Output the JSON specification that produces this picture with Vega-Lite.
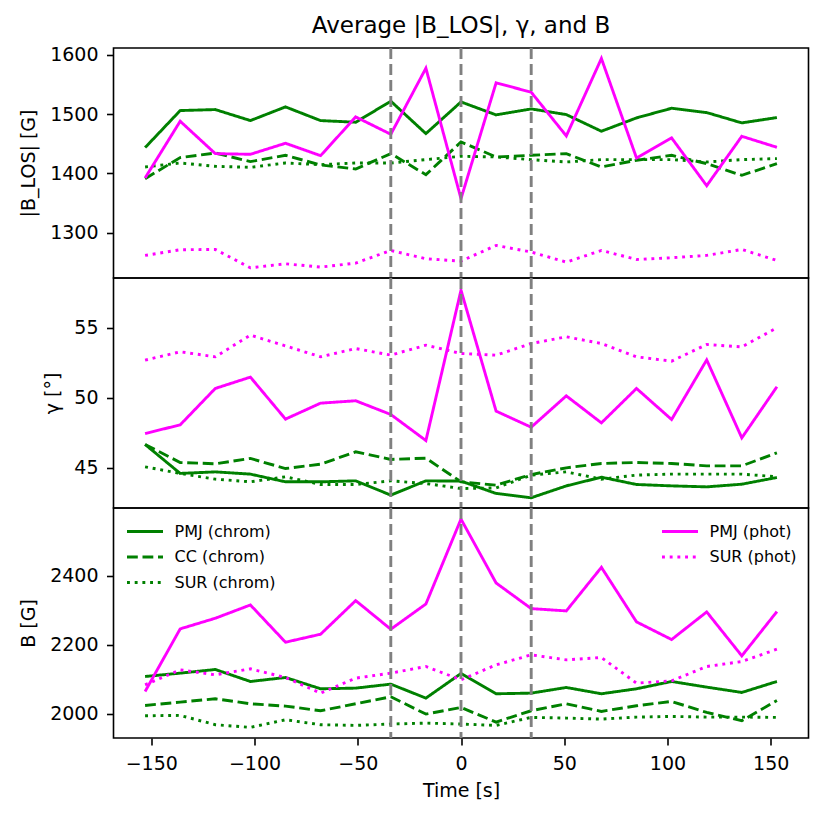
{
  "$schema": "https://vega.github.io/schema/vega-lite/v6.json",
  "padding": {"left": 18.5, "top": 14, "right": 5, "bottom": 5},
  "spacing": 0,
  "bounds": "flush",
  "config": {
    "font": "DejaVu Sans",
    "view": {"stroke": "black", "strokeWidth": 1.6},
    "axis": {
      "domain": false, "grid": false, "format": "d",
      "tickColor": "black", "tickSize": 7, "tickWidth": 1.6,
      "labelFontSize": 19, "labelColor": "black", "labelPadding": 8.5,
      "titleFontSize": 19, "titleFontWeight": "normal", "titleColor": "black", "titlePadding": 11
    },
    "legend": {
      "title": null, "labelFontSize": 16, "labelColor": "black",
      "symbolType": "M-1.0,0H2.6", "symbolSize": 400, "symbolStrokeWidth": 2.9,
      "labelOffset": 26, "offset": 12, "padding": 0, "rowPadding": 5.5
    }
  },
  "datasets": {
    "vlines": [{"t": -34}, {"t": 0}, {"t": 34}],
    "series": [
      {"t": -153, "series": "PMJ (chrom)", "blos": 1443.7, "gamma": 46.67, "b": 2108.2},
      {"t": -136, "series": "PMJ (chrom)", "blos": 1506.2, "gamma": 44.6, "b": 2117.9},
      {"t": -119, "series": "PMJ (chrom)", "blos": 1507.9, "gamma": 44.71, "b": 2128.5},
      {"t": -102, "series": "PMJ (chrom)", "blos": 1489.3, "gamma": 44.55, "b": 2093.7},
      {"t": -85, "series": "PMJ (chrom)", "blos": 1512.4, "gamma": 44.0, "b": 2105.3},
      {"t": -68, "series": "PMJ (chrom)", "blos": 1489.3, "gamma": 44.0, "b": 2072.5},
      {"t": -51, "series": "PMJ (chrom)", "blos": 1486.5, "gamma": 44.07, "b": 2074.4},
      {"t": -34, "series": "PMJ (chrom)", "blos": 1522.0, "gamma": 43.05, "b": 2086.0},
      {"t": -17, "series": "PMJ (chrom)", "blos": 1467.3, "gamma": 44.07, "b": 2045.4},
      {"t": 0, "series": "PMJ (chrom)", "blos": 1520.8, "gamma": 44.05, "b": 2116.9},
      {"t": 17, "series": "PMJ (chrom)", "blos": 1498.9, "gamma": 43.17, "b": 2058.0},
      {"t": 34, "series": "PMJ (chrom)", "blos": 1509.0, "gamma": 42.86, "b": 2059.9},
      {"t": 51, "series": "PMJ (chrom)", "blos": 1499.4, "gamma": 43.71, "b": 2076.3},
      {"t": 68, "series": "PMJ (chrom)", "blos": 1471.3, "gamma": 44.33, "b": 2058.0},
      {"t": 85, "series": "PMJ (chrom)", "blos": 1493.8, "gamma": 43.81, "b": 2072.5},
      {"t": 102, "series": "PMJ (chrom)", "blos": 1510.1, "gamma": 43.71, "b": 2093.7},
      {"t": 119, "series": "PMJ (chrom)", "blos": 1502.8, "gamma": 43.64, "b": 2077.3},
      {"t": 136, "series": "PMJ (chrom)", "blos": 1485.4, "gamma": 43.83, "b": 2061.8},
      {"t": 153, "series": "PMJ (chrom)", "blos": 1494.4, "gamma": 44.31, "b": 2093.7},

      {"t": -153, "series": "CC (chrom)", "blos": 1391.3, "gamma": 46.67, "b": 2024.1},
      {"t": -136, "series": "CC (chrom)", "blos": 1426.8, "gamma": 45.38, "b": 2033.8},
      {"t": -119, "series": "CC (chrom)", "blos": 1434.6, "gamma": 45.29, "b": 2043.5},
      {"t": -102, "series": "CC (chrom)", "blos": 1420.0, "gamma": 45.67, "b": 2029.0},
      {"t": -85, "series": "CC (chrom)", "blos": 1430.7, "gamma": 44.95, "b": 2022.2},
      {"t": -68, "series": "CC (chrom)", "blos": 1414.4, "gamma": 45.26, "b": 2008.7},
      {"t": -51, "series": "CC (chrom)", "blos": 1407.6, "gamma": 46.14, "b": 2029.0},
      {"t": -34, "series": "CC (chrom)", "blos": 1433.5, "gamma": 45.6, "b": 2049.3},
      {"t": -17, "series": "CC (chrom)", "blos": 1398.0, "gamma": 45.69, "b": 1999.0},
      {"t": 0, "series": "CC (chrom)", "blos": 1453.2, "gamma": 44.0, "b": 2018.4},
      {"t": 17, "series": "CC (chrom)", "blos": 1427.9, "gamma": 43.76, "b": 1975.8},
      {"t": 34, "series": "CC (chrom)", "blos": 1430.7, "gamma": 44.52, "b": 2008.7},
      {"t": 51, "series": "CC (chrom)", "blos": 1433.5, "gamma": 45.0, "b": 2029.0},
      {"t": 68, "series": "CC (chrom)", "blos": 1411.0, "gamma": 45.31, "b": 2006.8},
      {"t": 85, "series": "CC (chrom)", "blos": 1422.2, "gamma": 45.38, "b": 2023.2},
      {"t": 102, "series": "CC (chrom)", "blos": 1430.7, "gamma": 45.31, "b": 2035.7},
      {"t": 119, "series": "CC (chrom)", "blos": 1416.6, "gamma": 45.14, "b": 2003.9},
      {"t": 136, "series": "CC (chrom)", "blos": 1396.9, "gamma": 45.14, "b": 1979.7},
      {"t": 153, "series": "CC (chrom)", "blos": 1416.6, "gamma": 46.07, "b": 2038.6},

      {"t": -153, "series": "SUR (chrom)", "blos": 1411.0, "gamma": 45.07, "b": 1994.2},
      {"t": -136, "series": "SUR (chrom)", "blos": 1417.7, "gamma": 44.6, "b": 1995.2},
      {"t": -119, "series": "SUR (chrom)", "blos": 1412.1, "gamma": 44.19, "b": 1968.1},
      {"t": -102, "series": "SUR (chrom)", "blos": 1410.4, "gamma": 44.0, "b": 1960.4},
      {"t": -85, "series": "SUR (chrom)", "blos": 1417.7, "gamma": 44.36, "b": 1982.6},
      {"t": -68, "series": "SUR (chrom)", "blos": 1414.9, "gamma": 43.81, "b": 1968.1},
      {"t": -51, "series": "SUR (chrom)", "blos": 1417.7, "gamma": 43.81, "b": 1966.2},
      {"t": -34, "series": "SUR (chrom)", "blos": 1417.7, "gamma": 44.07, "b": 1970.1},
      {"t": -17, "series": "SUR (chrom)", "blos": 1423.4, "gamma": 43.88, "b": 1972.9},
      {"t": 0, "series": "SUR (chrom)", "blos": 1429.0, "gamma": 43.52, "b": 1970.1},
      {"t": 17, "series": "SUR (chrom)", "blos": 1427.9, "gamma": 43.57, "b": 1966.2},
      {"t": 34, "series": "SUR (chrom)", "blos": 1423.4, "gamma": 44.48, "b": 1989.4},
      {"t": 51, "series": "SUR (chrom)", "blos": 1419.4, "gamma": 44.71, "b": 1987.4},
      {"t": 68, "series": "SUR (chrom)", "blos": 1423.4, "gamma": 44.19, "b": 1984.5},
      {"t": 85, "series": "SUR (chrom)", "blos": 1423.4, "gamma": 44.48, "b": 1990.3},
      {"t": 102, "series": "SUR (chrom)", "blos": 1423.4, "gamma": 44.55, "b": 1992.3},
      {"t": 119, "series": "SUR (chrom)", "blos": 1419.4, "gamma": 44.55, "b": 1990.3},
      {"t": 136, "series": "SUR (chrom)", "blos": 1423.4, "gamma": 44.55, "b": 1990.3},
      {"t": 153, "series": "SUR (chrom)", "blos": 1425.1, "gamma": 44.36, "b": 1989.4},

      {"t": -153, "series": "PMJ (phot)", "blos": 1392.4, "gamma": 47.45, "b": 2064.7},
      {"t": -136, "series": "PMJ (phot)", "blos": 1488.2, "gamma": 48.07, "b": 2246.4},
      {"t": -119, "series": "PMJ (phot)", "blos": 1433.5, "gamma": 50.67, "b": 2277.3},
      {"t": -102, "series": "PMJ (phot)", "blos": 1432.4, "gamma": 51.48, "b": 2315.9},
      {"t": -85, "series": "PMJ (phot)", "blos": 1451.0, "gamma": 48.48, "b": 2207.7},
      {"t": -68, "series": "PMJ (phot)", "blos": 1430.1, "gamma": 49.62, "b": 2230.9},
      {"t": -51, "series": "PMJ (phot)", "blos": 1495.5, "gamma": 49.79, "b": 2328.5},
      {"t": -34, "series": "PMJ (phot)", "blos": 1466.2, "gamma": 48.81, "b": 2245.4},
      {"t": -17, "series": "PMJ (phot)", "blos": 1577.7, "gamma": 46.95, "b": 2318.8},
      {"t": 0, "series": "PMJ (phot)", "blos": 1357.5, "gamma": 57.69, "b": 2565.2},
      {"t": 17, "series": "PMJ (phot)", "blos": 1553.0, "gamma": 49.05, "b": 2379.7},
      {"t": 34, "series": "PMJ (phot)", "blos": 1537.2, "gamma": 47.9, "b": 2305.3},
      {"t": 51, "series": "PMJ (phot)", "blos": 1463.4, "gamma": 50.14, "b": 2298.6},
      {"t": 68, "series": "PMJ (phot)", "blos": 1594.1, "gamma": 48.21, "b": 2425.1},
      {"t": 85, "series": "PMJ (phot)", "blos": 1426.2, "gamma": 50.67, "b": 2266.7},
      {"t": 102, "series": "PMJ (phot)", "blos": 1460.0, "gamma": 48.45, "b": 2215.5},
      {"t": 119, "series": "PMJ (phot)", "blos": 1379.4, "gamma": 52.71, "b": 2295.7},
      {"t": 136, "series": "PMJ (phot)", "blos": 1462.8, "gamma": 47.14, "b": 2168.1},
      {"t": 153, "series": "PMJ (phot)", "blos": 1444.2, "gamma": 50.79, "b": 2296.6},

      {"t": -153, "series": "SUR (phot)", "blos": 1261.7, "gamma": 52.69, "b": 2084.0},
      {"t": -136, "series": "SUR (phot)", "blos": 1271.3, "gamma": 53.29, "b": 2127.5},
      {"t": -119, "series": "SUR (phot)", "blos": 1271.8, "gamma": 52.93, "b": 2113.0},
      {"t": -102, "series": "SUR (phot)", "blos": 1240.8, "gamma": 54.48, "b": 2130.4},
      {"t": -85, "series": "SUR (phot)", "blos": 1247.6, "gamma": 53.71, "b": 2105.3},
      {"t": -68, "series": "SUR (phot)", "blos": 1242.0, "gamma": 52.93, "b": 2059.9},
      {"t": -51, "series": "SUR (phot)", "blos": 1248.7, "gamma": 53.52, "b": 2103.4},
      {"t": -34, "series": "SUR (phot)", "blos": 1270.1, "gamma": 53.05, "b": 2117.9},
      {"t": -17, "series": "SUR (phot)", "blos": 1256.1, "gamma": 53.76, "b": 2137.2},
      {"t": 0, "series": "SUR (phot)", "blos": 1252.1, "gamma": 53.17, "b": 2098.6},
      {"t": 17, "series": "SUR (phot)", "blos": 1278.6, "gamma": 53.05, "b": 2142.0},
      {"t": 34, "series": "SUR (phot)", "blos": 1267.4, "gamma": 53.88, "b": 2171.0},
      {"t": 51, "series": "SUR (phot)", "blos": 1250.4, "gamma": 54.36, "b": 2156.5},
      {"t": 68, "series": "SUR (phot)", "blos": 1270.1, "gamma": 53.88, "b": 2163.3},
      {"t": 85, "series": "SUR (phot)", "blos": 1254.9, "gamma": 52.93, "b": 2088.9},
      {"t": 102, "series": "SUR (phot)", "blos": 1257.8, "gamma": 52.62, "b": 2095.6},
      {"t": 119, "series": "SUR (phot)", "blos": 1261.7, "gamma": 53.81, "b": 2137.2},
      {"t": 136, "series": "SUR (phot)", "blos": 1271.8, "gamma": 53.64, "b": 2151.7},
      {"t": 153, "series": "SUR (phot)", "blos": 1253.2, "gamma": 55.0, "b": 2187.4}
    ]
  },
  "vconcat": [
    {
      "width": 695,
      "height": 230,
      "title": {"text": "Average |B_LOS|, γ, and B", "frame": "group", "anchor": "middle", "fontSize": 23, "fontWeight": "normal", "color": "black", "offset": 8},
      "layer": [
        {
          "data": {"name": "series"},
          "mark": {"type": "line", "strokeWidth": 2.9},
          "encoding": {
            "x": {"field": "t", "type": "quantitative", "scale": {"domain": [-168.3, 168.3], "nice": false}, "axis": null},
            "y": {"field": "blos", "type": "quantitative", "scale": {"domain": [1223.6, 1611.8], "nice": false, "zero": false}, "axis": {"values": [1300, 1400, 1500, 1600], "title": "|B_LOS| [G]"}},
            "color": {"field": "series", "type": "nominal", "legend": null,
              "scale": {"domain": ["PMJ (chrom)", "CC (chrom)", "SUR (chrom)", "PMJ (phot)", "SUR (phot)"], "range": ["green", "green", "green", "magenta", "magenta"]}},
            "strokeDash": {"field": "series", "type": "nominal", "legend": null,
              "scale": {"domain": ["PMJ (chrom)", "CC (chrom)", "SUR (chrom)", "PMJ (phot)", "SUR (phot)"], "range": [[1, 0], [10.8, 4.7], [2.9, 4.8], [1, 0], [2.9, 4.8]]}}
          }
        },
        {
          "data": {"name": "vlines"},
          "mark": {"type": "rule", "color": "#808080", "strokeWidth": 2.9, "strokeDash": [11, 5]},
          "encoding": {"x": {"field": "t", "type": "quantitative"}}
        }
      ]
    },
    {
      "width": 695,
      "height": 230,
      "layer": [
        {
          "data": {"name": "series"},
          "mark": {"type": "line", "strokeWidth": 2.9},
          "encoding": {
            "x": {"field": "t", "type": "quantitative", "scale": {"domain": [-168.3, 168.3], "nice": false}, "axis": null},
            "y": {"field": "gamma", "type": "quantitative", "scale": {"domain": [42.13, 58.56], "nice": false, "zero": false}, "axis": {"values": [45, 50, 55], "title": "γ [°]"}},
            "color": {"field": "series", "type": "nominal", "legend": null,
              "scale": {"domain": ["PMJ (chrom)", "CC (chrom)", "SUR (chrom)", "PMJ (phot)", "SUR (phot)"], "range": ["green", "green", "green", "magenta", "magenta"]}},
            "strokeDash": {"field": "series", "type": "nominal", "legend": null,
              "scale": {"domain": ["PMJ (chrom)", "CC (chrom)", "SUR (chrom)", "PMJ (phot)", "SUR (phot)"], "range": [[1, 0], [10.8, 4.7], [2.9, 4.8], [1, 0], [2.9, 4.8]]}}
          }
        },
        {
          "data": {"name": "vlines"},
          "mark": {"type": "rule", "color": "#808080", "strokeWidth": 2.9, "strokeDash": [11, 5]},
          "encoding": {"x": {"field": "t", "type": "quantitative"}}
        }
      ]
    },
    {
      "width": 695,
      "height": 230,
      "layer": [
        {
          "data": {"name": "series"},
          "transform": [{"filter": "indexof(datum.series, 'chrom') >= 0"}],
          "mark": {"type": "line", "strokeWidth": 2.9, "color": "green"},
          "encoding": {
            "x": {"field": "t", "type": "quantitative", "scale": {"domain": [-168.3, 168.3], "nice": false},
              "axis": {"values": [-150, -100, -50, 0, 50, 100, 150], "title": "Time [s]", "labelPadding": 9, "titlePadding": 8}},
            "y": {"field": "b", "type": "quantitative", "scale": {"domain": [1929.6, 2597.4], "nice": false, "zero": false}, "axis": {"values": [2000, 2200, 2400], "title": "B [G]"}},
            "strokeDash": {"field": "series", "type": "nominal",
              "scale": {"domain": ["PMJ (chrom)", "CC (chrom)", "SUR (chrom)"], "range": [[1, 0], [10.8, 4.7], [2.9, 4.8]]},
              "legend": {"orient": "top-left", "symbolStrokeColor": "green"}}
          }
        },
        {
          "data": {"name": "series"},
          "transform": [{"filter": "indexof(datum.series, 'phot') >= 0"}],
          "mark": {"type": "line", "strokeWidth": 2.9, "color": "magenta"},
          "encoding": {
            "x": {"field": "t", "type": "quantitative"},
            "y": {"field": "b", "type": "quantitative"},
            "strokeDash": {"field": "series", "type": "nominal",
              "scale": {"domain": ["PMJ (phot)", "SUR (phot)"], "range": [[1, 0], [2.9, 4.8]]},
              "legend": {"orient": "top-right", "symbolStrokeColor": "magenta"}}
          }
        },
        {
          "data": {"name": "vlines"},
          "mark": {"type": "rule", "color": "#808080", "strokeWidth": 2.9, "strokeDash": [11, 5]},
          "encoding": {"x": {"field": "t", "type": "quantitative"}}
        }
      ],
      "resolve": {"scale": {"strokeDash": "independent"}}
    }
  ]
}
